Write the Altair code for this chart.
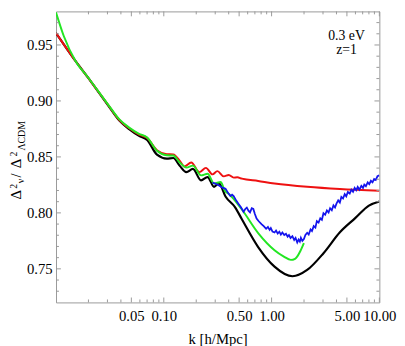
import altair as alt
import pandas as pd

# ---------------- data ----------------
k_black = [0.0100, 0.0118, 0.0152, 0.0200, 0.0246, 0.0303, 0.0387, 0.0477, 0.0589, 0.0701,
           0.0864, 0.1065, 0.1225, 0.1407, 0.1618, 0.1862, 0.2215, 0.2549, 0.2925, 0.3249,
           0.3738, 0.4590, 0.5303, 0.7507, 1.065, 1.563, 2.138, 3.032, 4.304, 6.000, 8.000, 10.0]
v_black = [0.9606, 0.9505, 0.9355, 0.9203, 0.9083, 0.8963, 0.8825, 0.8748, 0.8688, 0.8652,
           0.8520, 0.8485, 0.8490, 0.8420, 0.8364, 0.8393, 0.8291, 0.8320, 0.8233, 0.8263,
           0.8146, 0.8050, 0.7943, 0.7695, 0.7520, 0.7434, 0.7490, 0.7640, 0.7827, 0.7955, 0.8065, 0.8102]

k_red = [0.0100, 0.0118, 0.0152, 0.0200, 0.0246, 0.0303, 0.0387, 0.0477, 0.0589, 0.0701,
         0.0864, 0.1065, 0.1225, 0.1407, 0.1550, 0.1797, 0.2138, 0.2460, 0.2828, 0.3142,
         0.3606, 0.4006, 0.4449, 0.4800, 0.5303, 0.7507, 1.065, 2.138, 4.304, 10.0]
v_red = [0.9606, 0.9505, 0.9355, 0.9203, 0.9085, 0.8967, 0.8830, 0.8756, 0.8700, 0.8669,
         0.8559, 0.8524, 0.8522, 0.8465, 0.8415, 0.8451, 0.8364, 0.8402, 0.8344, 0.8373,
         0.8326, 0.8338, 0.8315, 0.8318, 0.8306, 0.8285, 0.8263, 0.8233, 0.8213, 0.8198]

k_green = [0.0100, 0.0118, 0.0152, 0.0200, 0.0246, 0.0303, 0.0387, 0.0477, 0.0589, 0.0701,
           0.0864, 0.1065, 0.1225, 0.1407, 0.1618, 0.1862, 0.2215, 0.2549, 0.2925, 0.3365,
           0.3700, 0.4000, 0.5303, 0.7507, 1.065, 1.300, 1.510, 1.650, 1.734, 1.850, 1.995]
v_green = [0.9790, 0.9580, 0.9355, 0.9205, 0.9088, 0.8970, 0.8835, 0.8762, 0.8706, 0.8674,
           0.8555, 0.8515, 0.8512, 0.8450, 0.8405, 0.8422, 0.8335, 0.8350, 0.8263, 0.8275,
           0.8195, 0.8170, 0.8030, 0.7820, 0.7667, 0.7610, 0.7580, 0.7590, 0.7612, 0.7660, 0.7730]

k_blue = [0.283, 0.300, 0.325, 0.350, 0.374, 0.400, 0.415, 0.430, 0.445, 0.470,
          0.494, 0.520, 0.549, 0.570, 0.589, 0.610, 0.631, 0.655, 0.677, 0.700,
          0.726, 0.760, 0.806, 0.850, 0.890, 0.925, 0.960, 0.984, 1.02, 1.065,
          1.10, 1.14, 1.18, 1.22, 1.26, 1.31, 1.36, 1.41, 1.45, 1.50,
          1.56, 1.62, 1.67, 1.73, 1.78, 1.83, 1.87, 1.93, 1.995, 2.06,
          2.14, 2.21, 2.30, 2.37, 2.46, 2.55, 2.63, 2.73, 2.83, 2.93,
          3.03, 3.14, 3.26, 3.38, 3.49, 3.62, 3.75, 3.88, 4.00, 4.15,
          4.30, 4.44, 4.60, 4.77, 4.93, 5.10, 5.31, 5.50, 5.70, 5.90,
          6.10, 6.30, 6.53, 6.80, 7.05, 7.25, 7.50, 7.80, 8.06, 8.35,
          8.64, 8.94, 9.25, 9.60, 10.0]
v_blue = [0.8270, 0.8262, 0.8245, 0.8225, 0.8215, 0.8170, 0.8150, 0.8162, 0.8150, 0.8110,
          0.8080, 0.8050, 0.8010, 0.8035, 0.8047, 0.8020, 0.8005, 0.8042, 0.8035, 0.7990,
          0.7950, 0.7925, 0.7900, 0.7880, 0.7858, 0.7874, 0.7848, 0.7864, 0.7833, 0.7825,
          0.7842, 0.7816, 0.7832, 0.7806, 0.7824, 0.7803, 0.7814, 0.7788, 0.7802, 0.7776,
          0.7792, 0.7758, 0.7777, 0.7736, 0.7762, 0.7743, 0.7777, 0.7750, 0.7767, 0.7802,
          0.7822, 0.7806, 0.7852, 0.7838, 0.7882, 0.7868, 0.7927, 0.7913, 0.7952, 0.7938,
          0.7997, 0.7983, 0.8022, 0.8003, 0.8042, 0.8023, 0.8067, 0.8048, 0.8082, 0.8112,
          0.8093, 0.8142, 0.8128, 0.8167, 0.8148, 0.8187, 0.8173, 0.8207, 0.8188, 0.8224,
          0.8203, 0.8232, 0.8208, 0.8242, 0.8223, 0.8252, 0.8238, 0.8272, 0.8256, 0.8287,
          0.8273, 0.8302, 0.8293, 0.8327, 0.8335]

x_major = [0.05, 0.1, 0.5, 1, 5, 10]
x_minor = [0.02, 0.03, 0.04, 0.06, 0.07, 0.08, 0.09,
           0.2, 0.3, 0.4, 0.6, 0.7, 0.8, 0.9, 2, 3, 4, 6, 7, 8, 9]
y_major = [0.75, 0.80, 0.85, 0.90, 0.95]
y_minor = [0.73, 0.74, 0.76, 0.77, 0.78, 0.79, 0.81, 0.82, 0.83, 0.84,
           0.86, 0.87, 0.88, 0.89, 0.91, 0.92, 0.93, 0.94, 0.96, 0.97]

x_title = "k [h/Mpc]"
y_title_parts = ["Δ", "2", "ν", "/", "Δ", "2", "ΛCDM"]
annotations = ["0.3 eV", "z=1"]

# ---------------- layout / style ----------------
FONT = "Liberation Serif"
FRAME = "#999999"
W, H = 330, 297
XDOM = [0.01, 10]
YDOM = [0.72, 0.98]
MAJ, MIN = 5, 3

xscale = alt.Scale(type="log", domain=XDOM, nice=False)
yscale = alt.Scale(domain=YDOM, nice=False, zero=False)

XAX = alt.Axis(orient="bottom", values=x_major, format=".2f", ticks=False, domain=False,
               grid=False, labelFont=FONT, labelFontSize=15, labelColor="black",
               labelOverlap=False, labelFlush=False, labelPadding=6,
               title=x_title, titleFont=FONT, titleFontSize=15, titleFontWeight="normal",
               titleColor="black", titlePadding=9)
YAX = alt.Axis(orient="left", values=y_major, format=".2f", ticks=False, domain=False,
               grid=False, labelFont=FONT, labelFontSize=15, labelColor="black",
               labelOverlap=False, labelPadding=4, title=None)


def line(k, v, color, interp="monotone", width=2.0):
    df = pd.DataFrame({"k": k, "v": v})
    return alt.Chart(df).mark_line(color=color, strokeWidth=width, interpolate=interp,
                                   clip=True).encode(
        x=alt.X("k:Q", scale=xscale, axis=XAX),
        y=alt.Y("v:Q", scale=yscale, axis=YAX),
        order=alt.Order("k:Q"),
    )


black = line(k_black, v_black, "black", width=2.2)
red = line(k_red, v_red, "#ee1111")
green = line(k_green, v_green, "#22e622")
blue = line(k_blue, v_blue, "#1414ee", interp="linear", width=1.8)


def xticks(vals, size, top):
    df = pd.DataFrame({"k": vals})
    y0, y1 = (0, size) if top else (H, H - size)
    return alt.Chart(df).mark_rule(color=FRAME, strokeWidth=1).encode(
        x=alt.X("k:Q", scale=xscale, axis=XAX), y=alt.value(y0), y2=alt.value(y1))


def yticks(vals, size, right):
    df = pd.DataFrame({"v": vals})
    x0, x1 = (W, W - size) if right else (0, size)
    return alt.Chart(df).mark_rule(color=FRAME, strokeWidth=1).encode(
        y=alt.Y("v:Q", scale=yscale, axis=YAX), x=alt.value(x0), x2=alt.value(x1))


ticks = [xticks(x_major, MAJ, False), xticks(x_major, MAJ, True),
         xticks(x_minor, MIN, False), xticks(x_minor, MIN, True),
         yticks(y_major, MAJ, False), yticks(y_major, MAJ, True),
         yticks(y_minor, MIN, False), yticks(y_minor, MIN, True)]

one = pd.DataFrame({"a": [0]})

# y-axis title pieces: (x baseline px, y start px, font size)
title_pos = [(-35.5, 192, 15), (-40, 181, 10), (-33, 175.5, 10), (-35.5, 169.5, 15),
             (-35.5, 160, 15), (-40, 148, 10), (-32, 142, 10)]
title_layers = []
for txt, (px, py, fs) in zip(y_title_parts, title_pos):
    title_layers.append(
        alt.Chart(one).mark_text(angle=270, align="left", baseline="alphabetic",
                                 font=FONT, fontSize=fs, color="black").encode(
            x=alt.value(px), y=alt.value(py), text=alt.value(txt)))

ann_pos = [(296.5, 29), (296.5, 43)]
ann_layers = []
for txt, (px, py) in zip(annotations, ann_pos):
    ann_layers.append(
        alt.Chart(one).mark_text(align="center", baseline="alphabetic",
                                 font=FONT, fontSize=14, color="black").encode(
            x=alt.value(px), y=alt.value(py), text=alt.value(txt)))

chart = alt.layer(black, red, green, blue, *ticks, *title_layers, *ann_layers).properties(
    width=W, height=H,
    autosize=alt.AutoSizeParams(type="none"),
    padding={"left": 49, "top": 0, "right": 18, "bottom": 41},
).configure_view(stroke=FRAME, strokeWidth=1)

chart.save("out.html", embed_options={"renderer": "svg", "actions": False})
